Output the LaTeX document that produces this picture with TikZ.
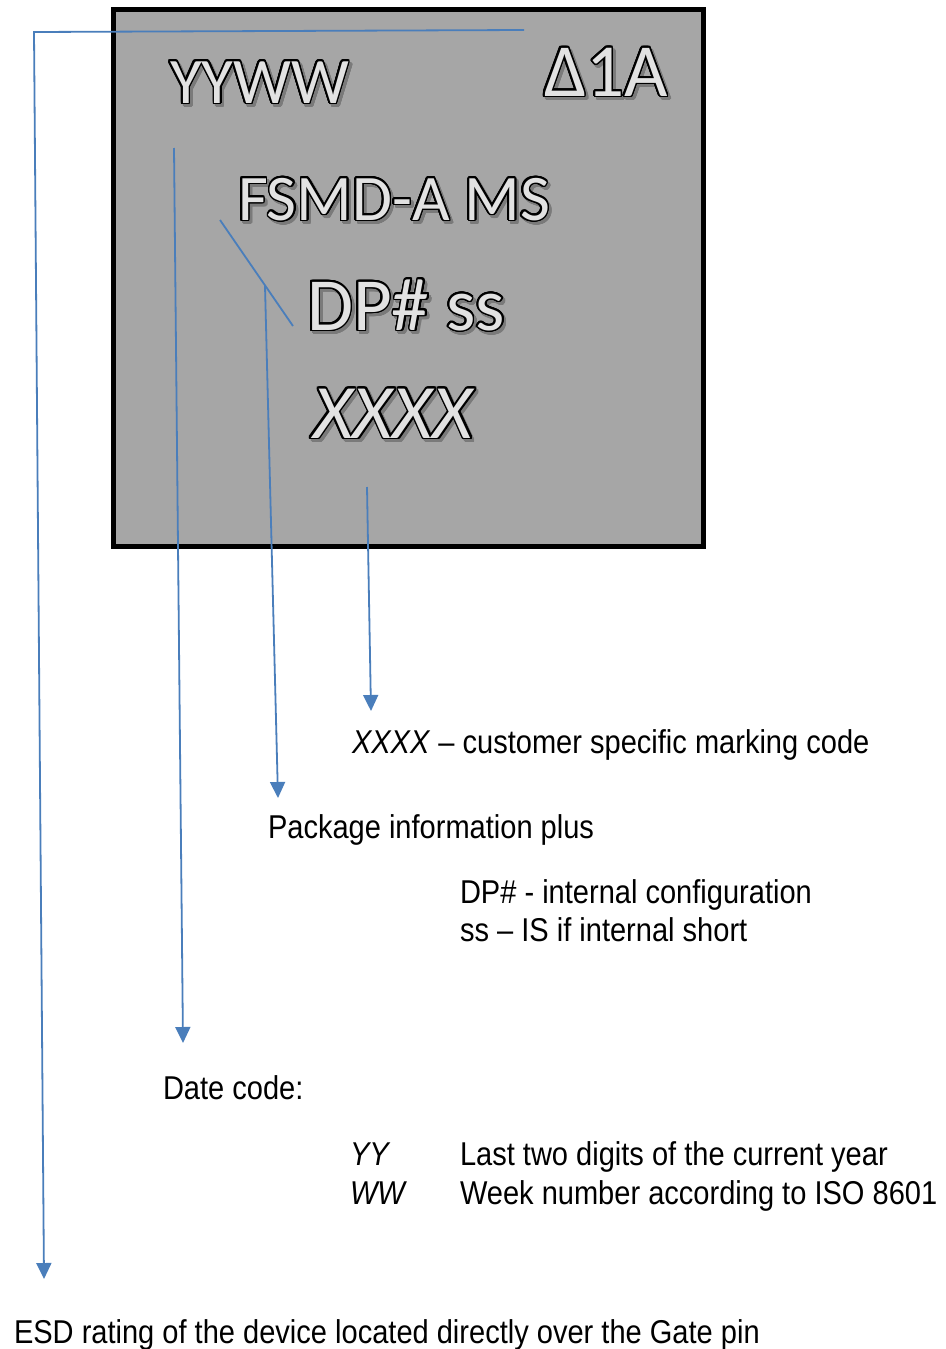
\documentclass[tikz,border=0pt]{standalone}
\usepackage{fontspec}
\usepackage{contour}
\usetikzlibrary{arrows.meta}
\newfontfamily\boxfont{Carlito}
\newfontfamily\labfont[FakeStretch=0.88]{Liberation Sans}
\definecolor{chip}{HTML}{A6A6A6}
\definecolor{markfill}{HTML}{E2E2E2}
\definecolor{markshadow}{HTML}{7A7A7A}
\definecolor{lead}{HTML}{4A7EBB}
\contourlength{1.6pt}
\contournumber{24}
\newcommand\mk[1]{\rlap{\hspace{2.5pt}\raisebox{-3pt}{\color{markshadow}\contour{markshadow}{#1}}}{\color{markfill}\contour{black}{#1}}}
\tikzset{
  marktext/.style={anchor=base west, inner sep=0pt, outer sep=0pt},
  labtext/.style={anchor=base west, inner sep=0pt, outer sep=0pt, font=\labfont\fontsize{33}{40}\selectfont},
  leader/.style={draw=lead, line width=1.8pt},
  arrowed/.style={leader, -{Triangle[length=16pt,width=15pt]}}
}
\begin{document}
\begin{tikzpicture}[x=1pt, y=-1pt]
\useasboundingbox (0,0) rectangle (945,1349);
% chip body
\draw[fill=chip, line width=5pt] (113,9.5) rectangle (703,546);
% marking text
\node[marktext, font=\boxfont\fontsize{65}{70}\selectfont] (yyww) at (170,103) {\mk{YYWW}};
\node[marktext, font=\boxfont\fontsize{75}{80}\selectfont] (esd) at (544,96) {\mk{Δ1A}};
\node[marktext, font=\boxfont\fontsize{65}{70}\selectfont] (fsmd) at (238,220) {\mk{FSMD-A MS}};
\node[marktext, font=\boxfont\fontsize{75}{80}\selectfont] (dp) at (307,330) {\mk{DP\# ss}};
\node[marktext, font=\boxfont\itshape\fontsize{77}{80}\selectfont] (xxxx) at (313,438) {\mk{XXXX}};
% leader coordinates
\coordinate (e0) at (524,30);
\coordinate (e1) at (34,32);
\coordinate (e2) at (44,1279);
\coordinate (d0) at (174,148);
\coordinate (d1) at (183,1043);
\coordinate (p0) at (220,220);
\coordinate (p1) at (293,326);
\coordinate (pj) at (265,286);
\coordinate (p2) at (278,798);
\coordinate (x0) at (367,487);
\coordinate (x1) at (371,711);
% labels
\node[labtext] (lx) at (352,753) {\textit{XXXX} – customer specific marking code};
\node[labtext] (lp) at (268,838) {Package information plus};
\node[labtext] (ldp) at (460,903) {DP\# - internal configuration};
\node[labtext] (lss) at (460,941) {ss – IS if internal short};
\node[labtext] (ld) at (163,1099) {Date code:};
\node[labtext] (lyy) at (350,1165) {\textit{YY}};
\node[labtext] (lyyt) at (460,1165) {Last two digits of the current year};
\node[labtext] (lww) at (350,1204) {\textit{WW}};
\node[labtext] (lwwt) at (460,1204) {Week number according to ISO 8601};
\node[labtext] (lesd) at (14,1343) {ESD rating of the device located directly over the Gate pin};
% leaders
\draw[arrowed] (e0) -- (e1) -- (e2);
\draw[arrowed] (d0) -- (d1);
\draw[leader] (p0) -- (p1);
\draw[arrowed] (pj) -- (p2);
\draw[arrowed] (x0) -- (x1);
\end{tikzpicture}
\end{document}
